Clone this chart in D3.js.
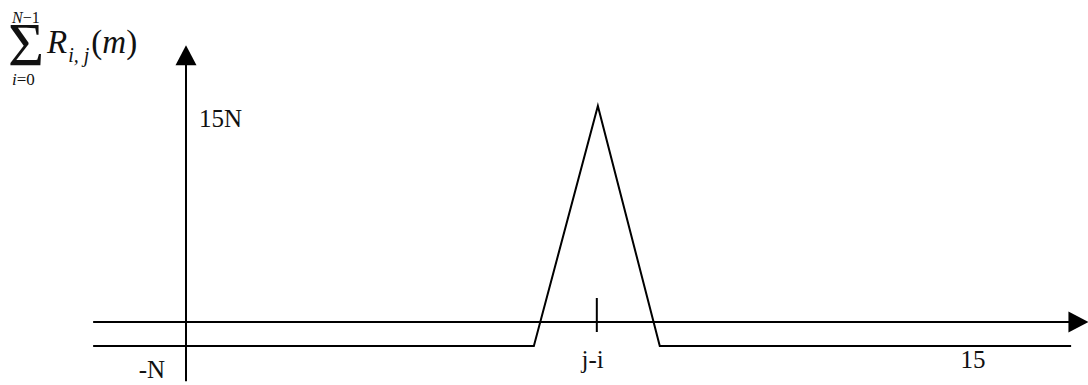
<!doctype html>
<html lang="en">
<head>
    <meta charset="UTF-8">
    <title>Sum of R(i,j)(m)</title>
    <style>
        body { margin: 0; background: #fff; }
    </style>
</head>
<body>
<script src="https://cdn.jsdelivr.net/npm/d3@7"></script>
<script>

    // signal: lag values (y axis at 0, label "15" at 15) and heights (peak = 15N)
    const signalLag = [-1.77, 6.63, 7.85, 9.03, 16.87]
    const signalVal = [0, 0, 15, 0, 0]

    // axes extents, in the same units
    const hAxisLevel = 1.5
    const hAxisLag = [-1.77, 17.2]
    const vAxisVal = [-2.2, 18.8]

    // tick at j-i
    const tickLag = 7.83

    const xLabels = ['-N', 'j-i', '15']
    const xLabelLag = [-0.65, 7.75, 15]
    const yLabels = ['15N']
    const yLabelVal = [15]

    const width = 1088
    const height = 385
    const serif = '"Liberation Serif", "Times New Roman", "DejaVu Serif", serif'

    const svg = d3.select('body')
        .append('svg')
        .attr('width', width)
        .attr('height', height)
        .attr('font-family', serif)

    const x = d3.scaleLinear().domain([0, 15]).range([186, 973])
    const y = d3.scaleLinear().domain([0, 15]).range([346, 106])

    const arrowLen = 20
    const arrowHalf = 10.5

    // horizontal axis with arrow
    const hy = y(hAxisLevel)
    const hx2 = x(hAxisLag[1])
    svg.append('line')
        .attr('x1', x(hAxisLag[0]))
        .attr('y1', hy)
        .attr('x2', hx2 - arrowLen + 2)
        .attr('y2', hy)
        .attr('stroke', 'black')
        .attr('stroke-width', 2)
    svg.append('path')
        .attr('d', `M${hx2},${hy} L${hx2 - arrowLen},${hy - arrowHalf} L${hx2 - arrowLen},${hy + arrowHalf} Z`)
        .attr('fill', 'black')

    // vertical axis with arrow
    const vx = x(0)
    const vy2 = y(vAxisVal[1])
    svg.append('line')
        .attr('x1', vx)
        .attr('y1', y(vAxisVal[0]))
        .attr('x2', vx)
        .attr('y2', vy2 + arrowLen - 2)
        .attr('stroke', 'black')
        .attr('stroke-width', 2)
    svg.append('path')
        .attr('d', `M${vx},${vy2} L${vx - arrowHalf},${vy2 + arrowLen} L${vx + arrowHalf},${vy2 + arrowLen} Z`)
        .attr('fill', 'black')

    // the signal
    const line = d3.line()
        .x(d => x(d[0]))
        .y(d => y(d[1]))

    svg.append('path')
        .datum(d3.zip(signalLag, signalVal))
        .attr('d', line)
        .attr('fill', 'none')
        .attr('stroke', 'black')
        .attr('stroke-width', 2)

    // tick mark at j-i
    svg.append('line')
        .attr('x1', x(tickLag))
        .attr('x2', x(tickLag))
        .attr('y1', hy - 24)
        .attr('y2', hy + 10)
        .attr('stroke', 'black')
        .attr('stroke-width', 2)

    // x labels
    svg.selectAll('.xlab')
        .data(xLabels)
        .enter()
        .append('text')
        .attr('class', 'xlab')
        .attr('x', (d, i) => x(xLabelLag[i]))
        .attr('y', (d, i) => i === 0 ? y(0) + 32 : y(0) + 22)
        .attr('text-anchor', 'middle')
        .attr('font-size', 25)
        .attr('fill', '#111')
        .text(d => d)

    // y label
    svg.selectAll('.ylab')
        .data(yLabels)
        .enter()
        .append('text')
        .attr('class', 'ylab')
        .attr('x', x(0) + 13)
        .attr('y', (d, i) => y(yLabelVal[i]) + 21)
        .attr('font-size', 25)
        .attr('fill', '#111')
        .text(d => d)

    // formula: sum_{i=0}^{N-1} R_{i,j}(m)
    const f = svg.append('g').attr('fill', '#111')
    f.append('text')
        .attr('x', 8)
        .attr('y', 65)
        .attr('font-size', 62)
        .text('\u03A3')
    f.append('text')
        .attr('x', 12)
        .attr('y', 23)
        .attr('font-size', 16)
        .html('<tspan font-style="italic">N</tspan>\u22121')
    f.append('text')
        .attr('x', 12)
        .attr('y', 85)
        .attr('font-size', 17)
        .html('<tspan font-style="italic">i</tspan>=0')
    const r = f.append('text')
        .attr('x', 47)
        .attr('y', 53)
        .attr('font-size', 33)
    r.append('tspan').attr('font-style', 'italic').text('R')
    r.append('tspan').attr('font-size', 20).attr('font-style', 'italic').attr('dy', 9).attr('dx', 1).text('i, j')
    r.append('tspan').attr('dy', -9).attr('dx', 2).text('(')
    r.append('tspan').attr('font-style', 'italic').text('m')
    r.append('tspan').text(')')

</script>
</body>
</html>
